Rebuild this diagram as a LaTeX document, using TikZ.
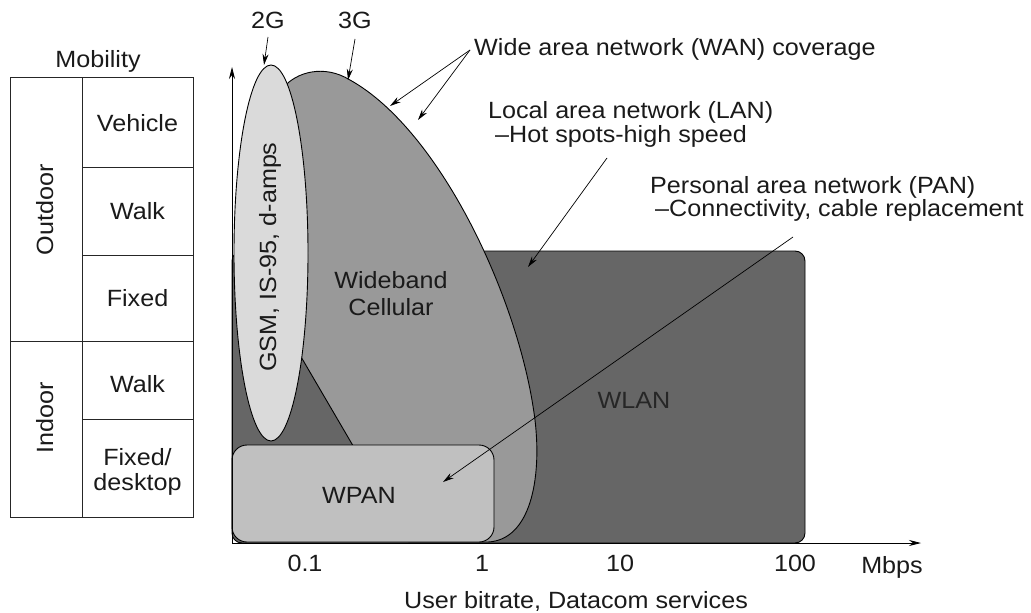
\documentclass[tikz,border=0pt]{standalone}
\usepackage{fontspec}
\setmainfont{Liberation Sans}[FakeStretch=1.07]
\usetikzlibrary{arrows.meta}
\definecolor{wlanfill}{HTML}{666666}
\definecolor{gthreefill}{HTML}{999999}
\definecolor{gtwofill}{HTML}{DADADA}
\definecolor{wpanfill}{HTML}{C0C0C0}
\definecolor{inktext}{HTML}{1A1A1A}
\begin{document}
\begin{tikzpicture}[x=1pt,y=-1pt,
  txt/.style={inner sep=0pt, font=\fontsize{23.5}{26}\selectfont, text=inktext},
  ptr/.style={-{Stealth[length=11pt,width=6pt]}, line width=0.7pt},
  outl/.style={line width=0.9pt, draw=black},
  tab/.style={line width=0.8pt, draw=black!85},
  axisline/.style={line width=0.8pt, -{Stealth[length=12pt,width=6pt]}}]
\useasboundingbox (0,0) rectangle (1031,613);

% ---- mobility table ----
\draw[tab] (10,77) rectangle (193,517);
\draw[tab] (82,77) -- (82,517);
\draw[tab] (82,167) -- (193,167);
\draw[tab] (82,255) -- (193,255);
\draw[tab] (10,341) -- (193,341);
\draw[tab] (82,419) -- (193,419);
\node[txt, anchor=base] (mob) at (98,67) {Mobility};
\node[txt, anchor=base] (veh) at (137.5,131) {Vehicle};
\node[txt, anchor=base] (walko) at (137.5,219) {Walk};
\node[txt, anchor=base] (fixo) at (137.5,306) {Fixed};
\node[txt, anchor=base] (walki) at (137.5,392) {Walk};
\node[txt, anchor=base] (fixi) at (137.5,465) {Fixed/};
\node[txt, anchor=base] (desk) at (137.5,490) {desktop};
\node[txt, anchor=base, rotate=90] (outd) at (53,210) {Outdoor};
\node[txt, anchor=base, rotate=90] (ind) at (53,418) {Indoor};

% ---- coverage areas ----
\filldraw[outl, fill=wlanfill, rounded corners=10] (232,251) rectangle (805,543);
\filldraw[outl, fill=gthreefill]
  (283,88) .. controls (296,72) and (324,64) .. (350,80)
  .. controls (440,130) and (520,300) .. (535,420)
  .. controls (542,480) and (530,540) .. (488,542)
  -- (409,542) -- (352,444) -- (297,350) -- (283,300) -- cycle;
\filldraw[outl, fill=gtwofill] (271,253) ellipse [x radius=37, y radius=188];
\filldraw[outl, fill=wpanfill, rounded corners=15] (232,445) rectangle (494,542);

% ---- axes ----
\coordinate (origin) at (232,543);
\coordinate (ytip) at (232,67);
\coordinate (xtip) at (921,543);
\draw[axisline] (origin) -- (ytip);
\draw[axisline] (origin) -- (xtip);

% ---- area labels ----
\node[txt, anchor=base, rotate=90] (gsm) at (276,257) {GSM, IS-95, d-amps};
\node[txt, anchor=base] (wb) at (391,288) {Wideband};
\node[txt, anchor=base] (cell) at (391,315) {Cellular};
\node[txt, anchor=base, text=black!85] (wlan) at (634,408) {WLAN};
\node[txt, anchor=base] (wpan) at (359,503) {WPAN};

% ---- axis labels ----
\node[txt, anchor=base] (t01) at (305,571) {0.1};
\node[txt, anchor=base] (t1) at (482,571) {1};
\node[txt, anchor=base] (t10) at (620,571) {10};
\node[txt, anchor=base] (t100) at (795,571) {100};
\node[txt, anchor=base] (mbps) at (892,573) {Mbps};
\node[txt, anchor=base] (xlab) at (576,608) {User bitrate, Datacom services};

% ---- callouts ----
\node[txt, anchor=base] (twog) at (268,28) {2G};
\node[txt, anchor=base] (threeg) at (355,28) {3G};
\node[txt, anchor=base west] (wan) at (474,55) {Wide area network (WAN) coverage};
\node[txt, anchor=base west] (lanA) at (488,118) {Local area network (LAN)};
\node[txt, anchor=base west] (lanB) at (495,142) {–Hot spots-high speed};
\node[txt, anchor=base west] (panA) at (650,193) {Personal area network (PAN)};
\node[txt, anchor=base west] (panB) at (655,216) {–Connectivity, cable replacement};

\coordinate (twogs) at (268,37);
\coordinate (twoge) at (264,65);
\coordinate (threegs) at (355,39);
\coordinate (threege) at (348,80);
\coordinate (wans) at (470,50);
\coordinate (wanea) at (390,106);
\coordinate (waneb) at (418,120);
\coordinate (lans) at (607,158);
\coordinate (lane) at (528,267);
\coordinate (pans) at (793,237);
\coordinate (pane) at (443,482);

\draw[ptr] (twogs) -- (twoge);
\draw[ptr] (threegs) -- (threege);
\draw[ptr] (wans) -- (wanea);
\draw[ptr] (wans) -- (waneb);
\draw[ptr] (lans) -- (lane);
\draw[ptr] (pans) -- (pane);
\end{tikzpicture}
\end{document}
